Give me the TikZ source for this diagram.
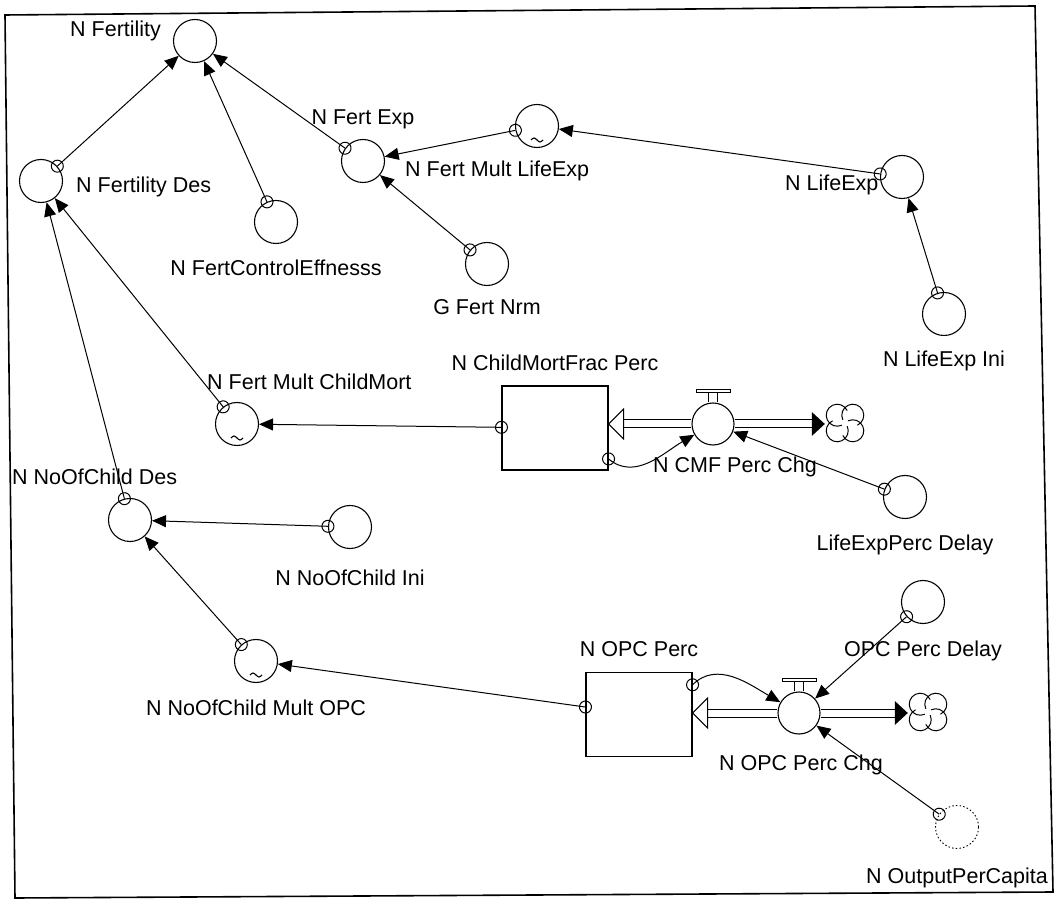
\documentclass[tikz,border=0pt]{standalone}
\usepackage{fontspec}
\setmainfont{Liberation Sans}
\usetikzlibrary{arrows.meta,decorations.markings,calc}
\begin{document}
\begin{tikzpicture}[x=1pt,y=1pt,
  var/.style={circle, draw, line width=1.1pt, minimum size=43pt, inner sep=0pt},
  ghostvar/.style={circle, draw, line width=0.9pt, dash pattern=on 1.5pt off 2.2pt, minimum size=43pt, inner sep=0pt},
  stock/.style={rectangle, draw, line width=1.1pt, minimum width=106pt, minimum height=84pt, inner sep=0pt},
  valve/.style={circle, draw, line width=1.1pt, minimum size=42pt, inner sep=0pt},
  cloudnode/.style={minimum width=40pt, minimum height=38pt, inner sep=0pt},
  lab/.style={font=\fontsize{21.5}{25}\selectfont, inner sep=0pt},
  link/.style={line width=1pt, -{Triangle[length=14pt,width=12pt]},
     postaction={decorate}, decoration={markings, mark=at position 0 with {\draw[line width=1pt] (0,0) circle (6pt);}}},
  pipe/.style={line width=1pt, double distance=7pt},
  frame/.style={line width=1.6pt},
]
\useasboundingbox (0,0) rectangle (1054,900);
\draw[frame] (5,885) -- (1035,894) -- (1053,8) -- (15,2) -- cycle;

% variables
\node[var] (fert) at (195,859) {};
\node[var] (fdes) at (41,719) {};
\node[var] (fce) at (276,678) {};
\node[var] (fexp) at (363,739) {};
\node[var] (fmle) at (537,774) {};
\node[var] (gfn) at (487,636) {};
\node[var] (le) at (902,723) {};
\node[var] (lei) at (944,586) {};
\node[var] (fmcm) at (237,476) {};
\node[var] (cdes) at (130,380) {};
\node[var] (cini) at (350,373) {};
\node[var] (cmop) at (256,239) {};
\node[var] (led) at (905,403) {};
\node[var] (opcd) at (923,298) {};
\node[ghostvar] (opc) at (957,73) {};

% stocks, valves, clouds
\node[stock] (cms) at (555,472) {};
\node[valve] (cmv) at (713,476) {};
\node[cloudnode] (cmc) at (845,477) {};
\node[stock] (opcs) at (639,185.5) {};
\node[valve] (opcv) at (799,187) {};
\node[cloudnode] (opcc) at (928,188) {};

% tildes (graphical functions)
\foreach \n in {fmle,fmcm,cmop}{
  \draw[line width=1.1pt] ([shift={(-6pt,-14pt)}]\n.center) sin ++(3pt,2pt) cos ++(3pt,-2pt) sin ++(3pt,-2pt) cos ++(3pt,2pt);
}

% valve handles
\foreach \v in {cmv,opcv}{
  \draw[line width=1pt] ([xshift=-4.5pt]\v.north) -- ++(0,10pt) ([xshift=4.5pt]\v.north) -- ++(0,10pt);
  \draw[line width=1pt] ([shift={(-17pt,10pt)}]\v.north) rectangle ([shift={(17pt,13pt)}]\v.north);
}

% pipes
\foreach \v/\s/\c in {cmv/cms/cmc, opcv/opcs/opcc}{
  \draw[pipe] (\v.west) -- ($(\v.west -| \s.east)+(15pt,0)$);
  \draw[line width=1pt, fill=white] (\v.west -| \s.east) -- ++(15pt,15pt) -- ++(0,-30pt) -- cycle;
  \draw[pipe] (\v.east) -- ($(\v.east -| \c.west)+(-13pt,0)$);
  \fill (\v.east -| \c.west) -- ++(-13pt,12pt) -- ++(0,-24pt) -- cycle;
}

% clouds
\foreach \c in {cmc,opcc}{
  \begin{scope}[shift={(\c.center)}]
    \foreach \a/\s/\e in {45/-65/205, 135/25/295, 225/115/385, 315/205/475}
      \draw[line width=1pt] (\a:11pt) ++(\s:11pt) arc[start angle=\s, end angle=\e, radius=11pt];
  \end{scope}
}

% links
\draw[link] (fdes) -- (fert);
\draw[link] (fce) -- (fert);
\draw[link] (fexp) -- (fert);
\draw[link] (fmle) -- (fexp);
\draw[link] (gfn) -- (fexp);
\draw[link] (le) -- (fmle);
\draw[link] (lei) -- (le);
\draw[link] (fmcm) -- (fdes);
\draw[link] (cdes) -- (fdes);
\draw[link] (cms) -- (fmcm);
\draw[link] (cini) -- (cdes);
\draw[link] (cmop) -- (cdes);
\draw[link] (opcs) -- (cmop);
\draw[link] (cms.-30) to[out=-40,in=-150] (cmv);
\draw[link] (led) -- (cmv);
\draw[link] (opcs.29) to[out=45,in=150] (opcv);
\draw[link] (opcd) -- (opcv);
\draw[link] (opc) -- (opcv);

% labels
\node[lab, anchor=base west] (t1) at (70,863) {N Fertility};
\node[lab, anchor=base west] (t2) at (76,707) {N Fertility Des};
\node[lab, anchor=base] (t3) at (276,624) {N FertControlEffnesss};
\node[lab, anchor=base] (t4) at (363,775) {N Fert Exp};
\node[lab, anchor=base west] (t5) at (405,723) {N Fert Mult LifeExp};
\node[lab, anchor=base] (t6) at (487,585) {G Fert Nrm};
\node[lab, anchor=base west] (t7) at (785,709) {N LifeExp};
\node[lab, anchor=base] (t8) at (944,533) {N LifeExp Ini};
\node[lab, anchor=base west] (t9) at (207,510) {N Fert Mult ChildMort};
\node[lab, anchor=base] (t10) at (555,529) {N ChildMortFrac Perc};
\node[lab, anchor=base west] (t11) at (653,427) {N CMF Perc Chg};
\node[lab, anchor=base] (t12) at (905,349) {LifeExpPerc Delay};
\node[lab, anchor=base west] (t13) at (12,415) {N NoOfChild Des};
\node[lab, anchor=base] (t14) at (350,314) {N NoOfChild Ini};
\node[lab, anchor=base] (t15) at (256,185) {N NoOfChild Mult OPC};
\node[lab, anchor=base] (t16) at (639,244) {N OPC Perc};
\node[lab, anchor=base] (t17) at (923,244) {OPC Perc Delay};
\node[lab, anchor=base] (t18) at (801,130) {N OPC Perc Chg};
\node[lab, anchor=base] (t19) at (957,17) {N OutputPerCapita};
\end{tikzpicture}
\end{document}
